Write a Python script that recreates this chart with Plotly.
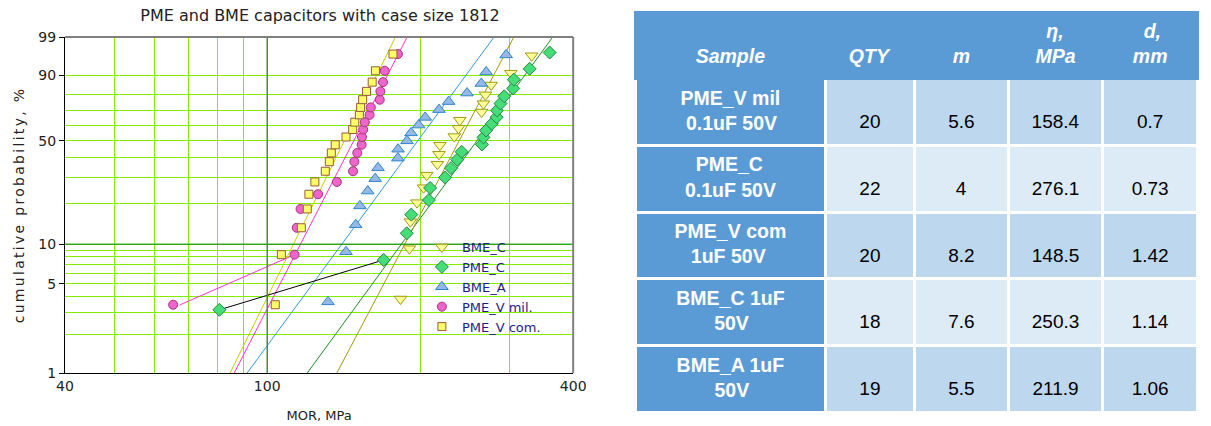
import numpy as np
import plotly.graph_objects as go

# ---------------- chart data (MOR in MPa, cumulative probability in %) ----------------
bme_c_mor = [182.9, 190.4, 191.3, 197.1, 203.1, 206.0, 216.2, 217.8, 218.7, 233.4,
             237.9, 239.3, 264.1, 266.4, 268.8, 275.8, 301.6, 331.4]
bme_c_prob = [3.80, 9.24, 14.67, 20.11, 25.54, 30.98, 36.41, 41.85, 47.28, 52.72,
              58.15, 63.59, 69.02, 74.46, 79.89, 85.33, 90.76, 96.20]

pme_c_mor = [80.5, 169.5, 188.2, 192.1, 208.0, 209.2, 223.9, 230.0, 236.5, 241.3, 264.6,
             266.4, 269.5, 276.7, 282.8, 283.2, 287.8, 292.7, 304.8, 305.7, 328.4, 359.6]
pme_c_prob = [3.13, 7.59, 12.05, 16.52, 20.98, 25.45, 29.91, 34.38, 38.84, 43.30, 47.77,
              52.23, 56.70, 61.16, 65.63, 70.09, 74.55, 79.02, 83.48, 87.95, 92.41, 96.88]

bme_a_mor = [131.7, 142.9, 149.3, 152.2, 157.7, 163.1, 165.2, 180.8, 180.9, 188.4,
             191.9, 198.6, 204.6, 217.8, 227.5, 247.3, 263.8, 269.7, 295.2]
bme_a_prob = [3.61, 8.76, 13.92, 19.07, 24.23, 29.38, 34.54, 39.69, 44.85, 50.00,
              55.15, 60.31, 65.46, 70.62, 75.77, 80.93, 86.08, 91.24, 96.39]

pmev_mil_mor = [65.3, 113.2, 114.3, 116.3, 125.9, 137.1, 147.5, 148.4, 150.4, 153.4,
                153.6, 154.5, 155.6, 159.0, 159.9, 166.5, 167.0, 169.0, 170.3, 180.8]
pmev_mil_prob = [3.43, 8.33, 13.24, 18.14, 23.04, 27.94, 32.84, 37.75, 42.65, 47.55,
                 52.45, 57.35, 62.25, 67.16, 72.06, 76.96, 81.86, 86.76, 91.67, 96.57]

pmev_com_mor = [103.7, 106.6, 116.7, 119.9, 120.8, 124.1, 130.1, 132.5, 133.7, 136.1,
                142.9, 147.3, 148.7, 151.8, 152.7, 154.1, 156.8, 160.9, 163.3, 176.8]
pmev_com_prob = [3.43, 8.33, 13.24, 18.14, 23.04, 27.94, 32.84, 37.75, 42.65, 47.55,
                 52.45, 57.35, 62.25, 67.16, 72.06, 76.96, 81.86, 86.76, 91.67, 96.57]

# fitted lines: MOR where each line crosses 1 % and 99 %
fit_prob = [1, 99]
fit_bme_c = [137.1, 305.7]
fit_pme_c = [119.9, 364.6]
fit_bme_a = [91.3, 279.5]
fit_pmev_mil = [86.1, 188.5]
fit_pmev_com = [84.5, 178.8]

# connector lines from the low outliers
link_pme_c_mor = [80.5, 169.5]
link_pme_c_prob = [3.13, 7.59]
link_pmev_mil_mor = [67.2, 113.2]
link_pmev_mil_prob = [3.41, 8.33]

# axis ticks / gridlines
x_grid = [40, 50, 60, 70, 80, 90, 100, 200, 300, 400]
x_labels = ["40", "", "", "", "", "", "100", "", "", "400"]
x_major = 100
y_ticks = [1, 5, 10, 50, 90, 99]
y_minor = [2, 3, 4, 6, 7, 8, 9, 20, 30, 40, 60, 70, 80]
y_major = 10

# ---------------- table data ----------------
tbl_header = ["Sample", "QTY", "m", "η,<br>MPa", "d,<br>mm"]
tbl_sample = ["PME_V mil<br>0.1uF 50V", "PME_C<br>0.1uF 50V", "PME_V com<br>1uF 50V",
              "BME_C 1uF<br>50V", "BME_A 1uF<br>50V"]
tbl_qty = [20, 22, 20, 18, 19]
tbl_m = [5.6, 4, 8.2, 7.6, 5.5]
tbl_eta = [158.4, 276.1, 148.5, 250.3, 211.9]
tbl_d = [0.7, 0.73, 1.42, 1.14, 1.06]


def wb(p):
    """Weibull probability scale: ln(-ln(1-F))."""
    return np.log(-np.log(1 - np.asarray(p, dtype=float) / 100.0))


# approximate Arial-Bold advance widths (1/1000 em) used to centre each line of a table cell
_W = {'P': 667, 'M': 833, 'E': 667, '_': 556, 'V': 667, ' ': 278, 'm': 889, 'i': 278, 'l': 278,
      '0': 556, '.': 278, '1': 556, 'u': 611, 'F': 611, '5': 556, 'C': 722, 'c': 556, 'o': 611,
      'B': 722, 'A': 722, 'η': 611, ',': 278, 'a': 556, 'd': 611}
NBSP = "\u00a0"


def centre_lines(text):
    lines = text.split("<br>")
    w = [sum(_W.get(ch, 600) for ch in ln) for ln in lines]
    mw = max(w)
    return "<br>".join(NBSP * int(round((mw - wi) / 2 / 278)) + ln for ln, wi in zip(lines, w))


def cell_text(text, open_tag="", close_tag=""):
    if "<br>" in text:
        body = centre_lines(text)
    else:
        body = NBSP + "<br>" + text  # spacer line to push a single line toward the middle
    return open_tag + body + close_tag


FONT = "DejaVu Sans, Verdana, sans-serif"
TFONT = "Liberation Sans, Arial, sans-serif"
XMIN, XMAX = 40, 400

fig = go.Figure()

# fitted lines
for mor, col in [(fit_pmev_com, "#cccc00"), (fit_pmev_mil, "#ff33cc"), (fit_bme_a, "#3399dd"),
                 (fit_pme_c, "#1f8c1f"), (fit_bme_c, "#a09a10")]:
    fig.add_trace(go.Scatter(x=mor, y=wb(fit_prob), mode="lines", line=dict(color=col, width=1),
                             showlegend=False, hoverinfo="skip"))
# connectors
fig.add_trace(go.Scatter(x=link_pmev_mil_mor, y=wb(link_pmev_mil_prob), mode="lines",
                         line=dict(color="#ff33cc", width=1), showlegend=False, hoverinfo="skip"))
fig.add_trace(go.Scatter(x=link_pme_c_mor, y=wb(link_pme_c_prob), mode="lines",
                         line=dict(color="black", width=1), showlegend=False, hoverinfo="skip"))

# markers (legend order)
series = [
    ("BME_C", bme_c_mor, bme_c_prob, "triangle-down", 11, "#ffff99", "#a09a10"),
    ("PME_C", pme_c_mor, pme_c_prob, "diamond", 10, "#44dd77", "#228844"),
    ("BME_A", bme_a_mor, bme_a_prob, "triangle-up", 11, "#94b8e8", "#2e86c8"),
    ("PME_V mil.", pmev_mil_mor, pmev_mil_prob, "circle", 9, "#ee66cc", "#a8307a"),
    ("PME_V com.", pmev_com_mor, pmev_com_prob, "square", 8, "#ffff66", "#9a5a3a"),
]
for name, xs, ps, sym, sz, fill, edge in series:
    fig.add_trace(go.Scatter(x=xs, y=wb(ps), mode="markers", name=name,
                             marker=dict(symbol=sym, size=sz, color=fill,
                                         line=dict(color=edge, width=1))))

# table
row_fill = ["#BDD7EE", "#DDEBF7", "#BDD7EE", "#DDEBF7", "#BDD7EE"]
fig.add_trace(go.Table(
    domain=dict(x=[(642 - 65) / 1146, 1.0], y=[0, 1]),
    columnwidth=[512, 240, 253, 255, 255],
    header=dict(values=[cell_text(h, "<b><i>", "</i></b>") for h in tbl_header],
                fill_color="#5B9BD5", line=dict(color="#5B9BD5", width=3),
                font=dict(family=TFONT, size=19.5, color="white"), align="center", height=66.7),
    cells=dict(values=[[cell_text(s, "<b>", "</b>") for s in tbl_sample],
                       [cell_text(str(v)) for v in tbl_qty],
                       [cell_text(str(v)) for v in tbl_m],
                       [cell_text(str(v)) for v in tbl_eta],
                       [cell_text(str(v)) for v in tbl_d]],
               fill_color=[["#5B9BD5"] * 5, row_fill, row_fill, row_fill, row_fill],
               line=dict(color="white", width=3),
               font=dict(family=TFONT, size=[19.5, 19, 19, 19, 19],
                         color=["white", "black", "black", "black", "black"]),
               align="center", height=66.7),
))

LG = "#80f000"
frac = lambda v: (np.log10(v) - np.log10(XMIN)) / (np.log10(XMAX) - np.log10(XMIN))
fig.update_layout(
    width=1211, height=426,
    margin=dict(l=65, r=0, t=12, b=14),
    paper_bgcolor="white", plot_bgcolor="white",
    title=dict(text="PME and BME capacitors with case size 1812", xref="container", x=320 / 1211,
               xanchor="center", yref="container", y=1 - 15 / 426, yanchor="middle",
               font=dict(family=FONT, size=16, color="#222222")),
    xaxis=dict(type="log", range=[np.log10(XMIN) - 1e-6, np.log10(XMAX) + 1e-6], domain=[0, 514 / 1146],
               tickvals=x_grid, ticktext=x_labels, ticks="",
               showline=True, linecolor="black", linewidth=1, zeroline=False,
               showgrid=True, gridcolor=LG, gridwidth=1,
               tickfont=dict(family=FONT, size=14, color="#222222"),
               title=dict(text="MOR, MPa", font=dict(family=FONT, size=13, color="#222222"), standoff=18)),
    yaxis=dict(range=[float(wb(1)), float(wb(99))], domain=[0.0975, 0.9375],
               tickvals=wb(y_ticks), ticktext=[str(v) for v in y_ticks],
               ticks="outside", ticklen=5, tickcolor="black",
               showline=True, linecolor="black", linewidth=1, zeroline=False,
               showgrid=True, gridcolor=LG, gridwidth=1,
               minor=dict(tickmode="array", tickvals=wb(y_minor), showgrid=True, gridcolor=LG,
                          gridwidth=1, ticks=""),
               tickfont=dict(family=FONT, size=14, color="#222222"),
               title=dict(text='<span style="letter-spacing:2.3px">cumulative probability, %</span>',
                          font=dict(family=FONT, size=14, color="#222222"), standoff=10)),
    legend=dict(x=(426 - 65) / 1146, y=(412 - 232) / 400, xanchor="left", yanchor="top",
                bgcolor="rgba(0,0,0,0)", font=dict(family=FONT, size=13, color="#1c1c8c")),
    shapes=[
        dict(type="line", xref="x domain", x0=0, x1=1, yref="y", y0=float(wb(y_major)), y1=float(wb(y_major)),
             line=dict(color="#008000", width=1), layer="above"),
        dict(type="line", xref="x domain", x0=float(frac(x_major)), x1=float(frac(x_major)),
             yref="y domain", y0=0, y1=1, line=dict(color="#4a8a4a", width=1.5), layer="above"),
        dict(type="line", xref="x domain", x0=0, x1=1, yref="y domain", y0=1, y1=1,
             line=dict(color="#808080", width=2), layer="above"),
        dict(type="line", xref="x domain", x0=1, x1=1, yref="y domain", y0=0, y1=1,
             line=dict(color="#808080", width=2), layer="above"),
    ],
)

fig.write_html("out.html", config={"displayModeBar": False},
               post_script="document.body.style.margin='0';")
